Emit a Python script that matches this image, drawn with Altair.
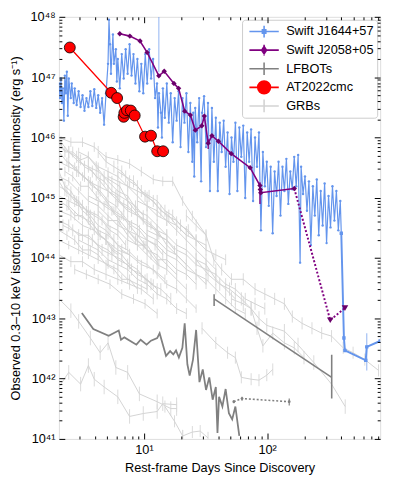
import altair as alt
import pandas as pd

FONT = "Liberation Sans"
W, H = 328, 431

# ---------------- data (rest-frame days, erg/s) ----------------
J1644_POINTS = [
    (2.043, 7.86e46), (2.081, 4.49e46), (2.119, 9.48e46), (2.159, 3.72e46), (2.198, 6.52e46),
    (2.239, 1.90e46), (2.280, 1.06e47), (2.322, 5.41e46), (2.365, 1.23e47), (2.409, 2.29e46),
    (2.453, 9.48e46), (2.545, 4.49e46), (2.592, 7.86e46), (2.689, 3.72e46), (2.739, 6.52e46),
    (2.841, 3.45e46), (2.947, 5.83e46), (3.057, 3.20e46), (3.171, 5.02e46), (3.289, 2.76e46),
    (3.412, 4.49e46), (3.539, 3.20e46), (3.671, 5.83e46), (3.808, 3.33e46), (3.951, 6.28e46),
    (4.098, 3.09e46), (4.251, 5.02e46), (4.410, 2.56e46), (4.574, 4.49e46), (4.745, 1.63e46),
    (4.922, 5.41e46), (5.106, 1.66e47), (5.200, 8.94e47), (5.297, 3.51e47), (5.395, 1.14e47),
    (5.596, 5.10e47), (5.700, 1.66e47), (5.912, 2.91e47), (6.022, 8.47e46), (6.133, 2.00e47),
    (6.362, 6.52e46), (6.599, 2.41e47), (6.845, 9.48e46), (7.101, 2.91e47), (7.366, 1.14e47),
    (7.641, 3.51e47), (7.926, 1.06e47), (8.221, 2.41e47), (8.528, 7.86e46), (8.846, 2.00e47),
    (9.176, 5.83e46), (9.519, 1.66e47), (9.872, 5.41e46), (10.24, 2.41e47), (10.62, 7.86e46),
    (11.02, 2.91e47), (11.43, 9.48e46), (11.86, 2.00e47), (12.30, 4.49e46), (12.76, 7.86e46),
    (12.99, 1.46e46), (13.23, 5.41e46), (13.73, 2.56e46), (13.98, 1.00e46), (14.24, 6.52e46),
    (14.77, 2.12e46), (15.32, 7.86e46), (15.89, 1.76e46), (16.49, 5.41e46), (17.10, 8.34e45),
    (17.74, 4.49e46), (18.41, 1.90e46), (19.09, 5.83e46), (19.81, 6.92e45), (20.55, 4.49e46),
    (21.31, 1.76e46), (22.11, 5.41e46), (22.93, 5.74e45), (23.79, 3.72e46), (24.68, 3.95e45),
    (25.13, 2.56e46), (25.59, 2.25e45), (26.07, 3.09e46), (27.04, 8.34e45), (28.05, 4.49e46),
    (29.10, 1.87e45), (29.64, 2.56e46), (30.74, 4.84e46), (31.89, 6.92e45), (33.08, 3.72e46),
    (34.31, 1.29e45), (35.59, 3.09e46), (36.92, 3.95e45), (38.30, 2.12e46), (39.72, 1.29e45),
    (41.21, 1.76e46), (42.74, 5.74e45), (44.34, 1.90e46), (45.99, 3.27e45), (47.71, 1.21e46),
    (49.49, 1.15e45), (51.34, 1.00e46), (53.26, 3.95e45), (55.24, 1.76e46), (57.31, 1.29e45),
    (59.44, 1.46e46), (61.66, 4.76e45), (63.97, 1.57e46), (66.36, 9.89e44), (68.83, 1.21e46),
    (71.40, 3.95e45), (74.07, 1.36e46), (76.83, 8.84e44), (79.70, 1.00e46), (82.68, 3.27e45),
    (85.77, 1.21e46), (88.97, 2.88e44), (92.29, 5.74e45), (95.70, 1.55e45), (99.27, 3.95e45),
    (103.0, 7.33e44), (106.8, 3.27e45), (110.8, 2.57e44), (114.9, 2.72e45), (119.2, 1.07e45),
    (123.7, 3.95e45), (128.3, 5.05e44), (133.1, 3.27e45), (138.0, 1.29e45), (143.2, 4.41e45),
    (148.5, 7.90e44), (154.1, 2.72e45), (159.8, 1.38e45), (165.8, 4.76e45), (172.0, 1.55e45),
    (178.4, 5.13e45), (185.1, 8.38e43), (188.5, 3.27e45), (195.5, 1.15e45), (202.8, 2.25e45),
    (210.4, 6.08e44), (218.3, 1.87e45), (226.4, 1.64e44), (234.9, 1.55e45), (243.6, 5.05e44),
    (252.7, 2.01e45), (262.1, 2.39e44), (271.9, 1.29e45), (282.0, 3.47e44), (292.6, 1.73e45),
    (303.5, 1.77e44), (314.8, 1.07e45), (326.6, 3.22e44), (338.8, 1.55e45), (351.4, 4.18e44),
    (364.5, 1.29e45), (378.1, 2.88e44), (392.2, 8.84e44), (399.5, 2.57e44),
]
J1644_LATE_DAYS = [399.5, 419.7, 427.5, 631.0, 643.0, 826.0]
J1644_LATE_LUM = [2.57e44, 4.71e42, 2.93e42, 2.01e42, 3.36e42, 4.21e42]
J1644_BAR_DAYS = [13.2, 643.0]
J1644_BAR_LO = [1.2e47, 1.37e42]
J1644_BAR_HI = [9.9e47, 5.68e42]

J2058_DAYS = [6.36, 7.68, 9.29, 10.6, 13.2, 14.6, 17.5, 19.1, 21.4, 23.8, 26.1, 29.5, 30.9,
              33.2, 35.6, 40.2, 51.1, 72.7, 87.4, 88.0, 88.7, 166.0]
J2058_LUM = [5.24e47, 4.79e47, 3.97e47, 2.57e47, 1.05e47, 1.25e47, 7.87e46, 6.52e46, 2.73e46,
             2.35e46, 1.32e46, 1.56e46, 2.26e46, 8.04e45, 1.07e46, 8.65e45, 5.38e45, 3.15e45,
             1.59e45, 1.37e45, 1.21e45, 1.42e45]
J2058_BAR_DAYS = [33.2, 87.4]
J2058_BAR_LO = [6.41e45, 7.90e44]
J2058_BAR_HI = [9.33e45, 1.80e45]
J2058_LIM_DAYS = [325.0, 428.0]
J2058_LIM_LUM = [9.3e42, 1.48e43]

AT2022_DAYS = [2.50, 5.42, 6.05, 6.84, 6.93, 7.28, 7.82, 8.41, 10.2, 11.4, 12.8, 14.3]
AT2022_LUM = [3.1e47, 5.5e46, 4.5e46, 2.2e46, 2.56e46, 2.83e46, 2.79e46, 2.31e46, 1.03e46,
              1.07e46, 5.9e45, 5.9e45]

COW_DAYS = [3.13, 3.88, 5.17, 6.24, 6.51, 6.93, 8.68, 9.40, 10.5, 11.4, 12.8, 13.4, 15.1, 16.3,
            17.3, 18.2, 19.2, 20.5, 21.4, 22.5, 23.5, 25.0, 26.5, 28.2, 30.0, 31.9, 33.9, 36.1,
            38.3, 39.5, 40.7, 43.3, 46.0, 48.9, 52.0, 55.2, 59.4]
COW_LUM = [1.23e43, 6.67e42, 5.13e42, 6.28e42, 4.42e42, 4.83e42, 3.66e42, 4.42e42, 3.66e42,
           4.26e42, 4.71e42, 5.68e42, 2.38e42, 2.86e42, 2.52e42, 2.93e42, 2.23e42, 3.24e42,
           8.24e42, 1.73e42, 1.12e42, 2.07e42, 6.42e42, 8.75e41, 1.42e42, 6.49e41, 1.05e42,
           4.47e41, 7.26e41, 1.25e41, 4.99e41, 3.44e41, 6.73e41, 2.67e41, 2.11e41, 3.44e41,
           1.12e41]
MRF_DAYS = [37.1, 334.0]
MRF_LUM = [2.10e43, 1.05e42]
MRF_LO = [1.6e43, 4.7e41]
MRF_HI = [2.5e43, 2.5e42]
XND_DAYS = [53.6, 62.5, 151.0]
XND_LUM = [4.14e41, 4.68e41, 4.14e41]
XND_LO = [3.9e41, 4.3e41, 3.6e41]
XND_HI = [4.4e41, 5.0e41, 4.7e41]

GRB_DAYS = [
    [2.04, 2.55, 3.17, 3.95, 4.92, 6.13, 7.64, 9.52, 11.9, 14.2, 17.1, 20.6, 24.7, 31.9],
    [2.04, 2.45, 2.95, 3.54, 4.25, 5.11, 6.13, 7.37, 8.85, 10.6, 12.8, 15.3],
    [2.04, 2.37, 2.74, 3.17, 3.67, 4.25, 4.92, 5.70, 6.60, 7.64, 8.85, 10.2],
    [2.04, 2.45, 2.95, 3.54, 4.25, 5.11, 6.13, 7.37, 8.85, 10.6, 12.8, 15.3, 18.4, 22.1],
    [2.12, 2.45, 2.84, 3.29, 3.81, 4.41, 5.11, 5.91, 6.85, 7.93],
    [2.28, 2.64, 3.06, 3.54, 4.10, 4.75, 5.49, 6.36, 7.37, 8.53, 9.87, 11.4, 13.2],
    [2.04, 2.45, 2.95, 3.54, 4.25, 5.11, 6.13, 7.37, 8.85, 10.6, 12.8, 15.3, 18.4],
    [2.04, 2.37, 2.74, 3.17, 3.67, 4.25, 4.92, 5.70, 6.60, 7.64],
    [2.04, 2.45, 2.95, 3.54, 4.25, 5.11, 6.13, 7.37, 8.85, 10.6, 12.8, 15.3, 18.4, 22.1],
    [2.04, 2.55, 3.17, 3.95, 4.92, 6.13, 7.64, 9.52, 11.9, 14.8],
    [2.20, 2.64, 3.17, 3.81, 4.57, 5.49, 6.60, 7.93, 9.52, 11.4, 13.7, 16.5],
    [2.04, 2.45, 2.95, 3.54, 4.25, 5.11, 6.13, 7.37, 8.85, 10.6],
    [2.04, 2.55, 3.17, 3.95, 4.92, 6.13, 7.64, 9.52, 11.9],
    [2.74, 3.41, 4.25, 5.30, 6.60, 8.22, 10.2, 12.8],
    [4.25, 4.92, 5.70, 6.60, 7.64, 8.85, 10.2, 11.9, 13.7, 15.9, 18.4, 22.1],
    [2.95, 3.54, 4.25, 5.11, 6.13, 7.37, 8.85, 10.6, 12.8, 15.3, 18.4, 22.1, 26.5],
    [5.11, 6.13, 7.37, 8.85, 10.6, 12.8, 15.3, 18.4, 22.1, 26.5, 31.9, 38.3],
    [3.54, 4.25, 5.11, 6.13, 7.37, 8.85, 10.6, 12.8, 15.3, 18.4, 22.1, 26.5, 31.9],
    [6.13, 7.37, 8.85, 10.6, 12.8, 15.3, 18.4, 22.1, 26.5, 31.9, 38.3, 46.0, 55.2],
    [7.37, 8.85, 10.6, 12.8, 15.3, 18.4, 22.1, 26.5, 31.9, 38.3, 46.0, 55.2, 66.4],
    [2.04, 2.28, 2.55, 2.84, 3.17, 3.54, 3.95, 4.41, 4.92, 5.49, 6.13],
    [2.45, 2.95, 3.54, 4.25, 5.11, 6.13, 7.37, 8.85, 10.6, 12.8, 15.3, 18.4, 22.1, 26.5],
    [10.6, 12.8, 15.3, 18.4, 22.1, 26.5, 31.9, 38.3, 46.0, 55.2, 66.4, 79.7, 95.7],
    [8.85, 10.6, 12.8, 15.3, 18.4, 22.1, 26.5, 31.9, 38.3, 46.0],
    [22.1, 26.5, 31.9, 36.9, 42.7, 51.3, 64.0, 79.7, 95.7, 115, 138, 160, 192, 231, 277, 333,
     414, 498, 620, 801],
    [51.3, 64.0, 74.1, 85.8, 99.3, 138, 178, 239, 333, 430],
    [29.6, 38.3, 47.7, 55.2, 61.7, 74.1, 85.8, 99.3, 111],
    [26.5, 33.1, 41.2, 49.5, 61.7, 74.1, 82.7, 92.3, 111, 138, 166, 199],
    [2.04, 2.55, 2.95, 3.67, 4.41, 5.11, 5.91, 7.37, 9.18, 12.8, 16.5, 18.4],
    [2.04, 2.45, 3.06, 3.54, 3.95, 4.75, 6.13, 7.64, 9.87, 12.8, 14.2, 18.4],
    [14.8, 17.7, 20.6],
    [20.6, 24.7, 28.6, 33.1],
    [2.04, 2.28, 2.64, 3.06, 3.54, 4.10, 4.75, 5.49, 6.36, 7.37, 8.53, 9.87],
    [2.04, 2.37, 2.74, 3.17, 3.67, 4.25, 4.92, 5.70, 6.60, 7.64, 8.85, 10.2, 11.9],
    [2.04, 2.45, 2.95, 3.54, 4.25, 5.11, 6.13, 7.37, 8.85, 10.6, 12.8],
    [3.54, 4.10, 4.75, 5.49, 6.36, 7.37, 8.53, 9.87, 11.4, 13.2, 15.3, 17.7],
    [2.45, 2.84, 3.29, 3.81, 4.41, 5.11, 5.91, 6.85, 7.93, 9.18, 10.6, 12.3, 14.2],
    [2.04, 2.37, 2.74, 3.17, 3.67, 4.25, 4.92, 5.70, 6.60, 7.64, 8.85],
    [6.13, 7.10, 8.22, 9.52, 11.0, 12.8, 14.8, 17.1, 19.8, 22.9, 26.5, 31.9],
    [2.95, 3.54, 4.25, 5.11, 6.13, 7.37, 8.85, 10.6, 12.8, 15.3, 18.4, 22.1],
    [2.04, 2.28, 2.55, 2.95, 3.41, 3.95, 4.57, 5.30, 6.13, 7.10],
    [4.25, 5.11, 6.13, 7.37, 8.85, 10.6, 12.8, 15.3, 18.4, 22.1, 26.5],
]
GRB_LUM = [
    [1.0e46, 8.34e45, 8.34e45, 6.92e45, 4.76e45, 4.25e45, 3.66e45, 2.72e45, 2.01e45, 1.87e45,
     1.87e45, 8.84e44, 5.05e44, 2.39e44],
    [6.92e45, 5.74e45, 3.95e45, 3.27e45, 2.72e45, 1.87e45, 1.29e45, 1.07e45, 6.08e44, 5.05e44,
     3.47e44, 2.39e44],
    [5.74e45, 3.95e45, 3.27e45, 2.25e45, 1.87e45, 1.29e45, 8.84e44, 6.08e44, 5.05e44, 3.47e44,
     2.39e44, 1.64e44],
    [3.95e45, 3.27e45, 2.72e45, 1.87e45, 1.55e45, 1.29e45, 8.84e44, 7.33e44, 5.05e44, 3.47e44,
     2.88e44, 1.64e44, 1.13e44, 7.78e43],
    [8.34e45, 5.74e45, 4.76e45, 3.27e45, 2.72e45, 1.87e45, 1.29e45, 1.07e45, 7.33e44, 6.08e44],
    [2.72e45, 2.25e45, 1.55e45, 1.55e45, 1.07e45, 7.33e44, 6.08e44, 4.18e44, 2.88e44, 1.98e44,
     1.64e44, 1.13e44, 7.78e43],
    [2.25e45, 1.87e45, 1.29e45, 8.84e44, 7.33e44, 5.05e44, 3.47e44, 2.88e44, 1.98e44, 1.36e44,
     1.13e44, 7.78e43, 5.35e43],
    [1.55e45, 1.29e45, 8.84e44, 7.33e44, 5.05e44, 3.47e44, 2.88e44, 1.98e44, 1.36e44, 1.13e44],
    [1.07e45, 8.84e44, 7.33e44, 6.08e44, 5.05e44, 3.47e44, 2.88e44, 1.98e44, 1.64e44, 1.13e44,
     7.78e43, 6.45e43, 4.44e43, 3.05e43],
    [6.08e44, 5.05e44, 3.47e44, 2.88e44, 1.98e44, 1.36e44, 1.13e44, 7.78e43, 6.45e43, 4.44e43],
    [3.47e44, 2.88e44, 2.39e44, 1.98e44, 1.36e44, 1.13e44, 9.38e43, 6.45e43, 5.35e43, 3.68e43,
     3.05e43, 2.10e43],
    [1.98e44, 1.64e44, 1.36e44, 1.13e44, 9.38e43, 7.78e43, 6.45e43, 4.44e43, 3.68e43, 3.05e43],
    [1.13e44, 8.70e43, 8.70e43, 6.45e43, 5.35e43, 4.44e43, 3.68e43, 3.05e43, 2.10e43],
    [6.45e43, 5.35e43, 4.44e43, 3.68e43, 2.53e43, 2.10e43, 1.74e43, 1.20e43],
    [5.74e45, 3.95e45, 3.27e45, 2.72e45, 1.87e45, 1.55e45, 1.07e45, 8.84e44, 6.08e44, 5.05e44,
     3.47e44, 2.39e44],
    [5.74e45, 4.76e45, 3.27e45, 2.72e45, 2.25e45, 1.55e45, 1.29e45, 1.07e45, 7.33e44, 5.05e44,
     4.18e44, 2.88e44, 1.98e44],
    [2.25e45, 1.87e45, 1.55e45, 1.07e45, 7.33e44, 6.08e44, 4.18e44, 2.88e44, 1.98e44, 1.36e44,
     9.38e43, 6.45e43],
    [1.07e45, 8.84e44, 7.33e44, 5.05e44, 4.18e44, 3.47e44, 2.39e44, 1.98e44, 1.36e44, 1.13e44,
     7.78e43, 5.35e43, 3.68e43],
    [8.84e44, 6.08e44, 5.05e44, 4.18e44, 2.88e44, 2.39e44, 1.64e44, 1.36e44, 9.38e43, 7.78e43,
     4.44e43, 3.05e43, 2.10e43],
    [2.88e44, 2.39e44, 1.98e44, 1.64e44, 1.13e44, 9.38e43, 6.45e43, 5.35e43, 4.44e43, 3.05e43,
     2.10e43, 1.45e43, 1.20e43],
    [2.72e45, 1.55e45, 1.29e45, 8.84e44, 6.08e44, 5.05e44, 3.47e44, 2.39e44, 1.98e44, 1.36e44,
     1.13e44],
    [7.33e44, 5.05e44, 4.18e44, 2.88e44, 2.39e44, 1.64e44, 1.36e44, 9.38e43, 7.78e43, 5.35e43,
     3.68e43, 3.05e43, 2.10e43, 1.45e43],
    [2.88e44, 2.39e44, 1.98e44, 1.36e44, 1.13e44, 7.78e43, 6.45e43, 5.35e43, 3.68e43, 3.05e43,
     2.10e43, 1.74e43, 1.45e43],
    [8.84e44, 7.33e44, 5.05e44, 4.18e44, 3.47e44, 2.39e44, 1.98e44, 1.36e44, 1.13e44, 9.38e43],
    [5.05e44, 3.47e44, 2.39e44, 9.38e43, 6.45e43, 4.44e43, 4.44e43, 3.05e43, 2.53e43, 2.10e43,
     1.74e43, 1.07e43, 8.25e42, 6.84e42, 5.68e42, 5.07e42, 3.24e42, 2.69e42, 2.07e42, 1.37e42],
    [2.10e43, 1.74e43, 1.45e43, 9.94e42, 7.65e42, 6.11e42, 3.62e42, 1.85e42, 8.11e41, 3.44e41],
    [6.84e42, 3.91e42, 2.69e42, 2.23e42, 1.05e42, 9.78e41, 9.43e41, 1.14e42, 1.42e42],
    [9.38e43, 5.35e43, 3.68e43, 3.05e43, 2.10e43, 1.45e43, 6.84e42, 3.49e42, 5.68e42, 3.91e42,
     3.24e42, 2.23e42],
    [2.10e43, 1.34e43, 8.89e42, 4.71e42, 2.69e42, 3.91e42, 1.53e42, 1.27e42, 5.58e41, 4.14e41,
     3.19e41, 3.19e41],
    [7.26e41, 1.27e42, 8.11e41, 1.65e42, 9.78e41, 7.26e41, 4.99e41, 2.36e41, 2.64e41, 2.85e41,
     3.84e41, 3.70e41],
    [3.44e41, 1.96e41, 1.12e41],
    [1.12e41, 1.30e41, 1.35e41, 1.04e41],
    [8.98e45, 5.74e45, 5.74e45, 4.25e45, 4.76e45, 3.27e45, 2.25e45, 1.87e45, 1.55e45, 8.84e44,
     7.33e44, 5.05e44],
    [8.84e44, 7.33e44, 5.05e44, 5.05e44, 3.47e44, 2.39e44, 1.98e44, 1.36e44, 1.13e44, 7.78e43,
     6.45e43, 4.44e43, 3.68e43],
    [4.18e44, 3.47e44, 2.39e44, 2.39e44, 1.64e44, 1.36e44, 9.38e43, 7.78e43, 5.35e43, 4.44e43,
     3.05e43],
    [3.27e45, 2.25e45, 1.87e45, 1.29e45, 1.07e45, 8.84e44, 6.08e44, 4.18e44, 3.47e44, 2.39e44,
     1.98e44, 1.36e44],
    [3.95e45, 2.72e45, 2.25e45, 1.55e45, 1.29e45, 8.84e44, 7.33e44, 5.05e44, 3.47e44, 2.88e44,
     1.98e44, 1.64e44, 1.13e44],
    [2.88e44, 2.39e44, 1.98e44, 1.36e44, 1.36e44, 1.13e44, 7.78e43, 6.45e43, 4.44e43, 4.44e43,
     3.05e43],
    [2.72e45, 2.25e45, 1.87e45, 1.29e45, 1.07e45, 8.84e44, 6.08e44, 5.05e44, 3.47e44, 2.88e44,
     1.98e44, 1.64e44],
    [1.98e44, 1.64e44, 1.36e44, 9.38e43, 7.78e43, 6.45e43, 4.44e43, 3.68e43, 2.53e43, 2.10e43,
     1.45e43, 1.20e43],
    [1.87e45, 1.29e45, 1.07e45, 8.84e44, 6.08e44, 5.05e44, 4.18e44, 2.88e44, 2.39e44, 1.64e44],
    [6.08e44, 4.18e44, 4.18e44, 2.39e44, 1.64e44, 1.64e44, 9.38e43, 9.38e43, 6.45e43, 5.35e43,
     3.68e43],
]
GRB_ERR_DEX = [0.08, 0.10, 0.07, 0.09, 0.10, 0.08, 0.07, 0.10, 0.09, 0.08, 0.10, 0.07, 0.09,
               0.08, 0.10, 0.07, 0.09, 0.08, 0.10, 0.09, 0.08, 0.07, 0.10, 0.09, 0.10, 0.12,
               0.10, 0.11, 0.12, 0.12, 0.10, 0.10, 0.09, 0.08, 0.10, 0.07, 0.09, 0.08, 0.10,
               0.09, 0.08, 0.09]

NAMES = ["Swift J1644+57", "Swift J2058+05", "LFBOTs", "AT2022cmc", "GRBs"]
COLORS = ["#6495ED", "#800080", "#808080", "#FF0000", "#D3D3D3"]
LEGEND_PATHS = [
    "M-3,0H3M0,-1.2V1.2M-0.35,-0.35H0.35V0.35H-0.35Z",
    "M-3,0H3M0,-1.1V1.1M0,-0.75L0.5,0L0,0.75L-0.5,0Z",
    "M-3,0H3M0,-1.3V1.3",
    "M-3,0H3M1.3,0A1.3,1.3,0,1,1,-1.3,0A1.3,1.3,0,1,1,1.3,0Z",
    "M-3,0H3M0,-1.3V1.3",
]

X_MAJOR = [10, 100]
X_MINOR = [3, 4, 5, 6, 7, 8, 9, 20, 30, 40, 50, 60, 70, 80, 90, 200, 300, 400, 500, 600, 700, 800]
Y_MAJOR = [1e41, 1e42, 1e43, 1e44, 1e45, 1e46, 1e47, 1e48]
Y_MINOR = [m * 10.0 ** e for e in range(41, 48) for m in range(2, 10)]

# ---------------- tables ----------------
grb_rows = []
for i, (ds, ls) in enumerate(zip(GRB_DAYS, GRB_LUM)):
    e = 10 ** GRB_ERR_DEX[i]
    for d, l in zip(ds, ls):
        grb_rows.append({"curve": i, "day": d, "lum": l, "lo": l / e, "hi": l * e})
grb_df = pd.DataFrame(grb_rows)

j1644_df = pd.DataFrame(J1644_POINTS, columns=["day", "lum"])
j1644_late = pd.DataFrame({"day": J1644_LATE_DAYS, "lum": J1644_LATE_LUM})
j1644_bar = pd.DataFrame({"day": J1644_BAR_DAYS, "lo": J1644_BAR_LO, "hi": J1644_BAR_HI})
j2058_df = pd.DataFrame({"day": J2058_DAYS, "lum": J2058_LUM})
j2058_bar = pd.DataFrame({"day": J2058_BAR_DAYS, "lo": J2058_BAR_LO, "hi": J2058_BAR_HI})
j2058_lim = pd.DataFrame({"day": J2058_LIM_DAYS, "lum": J2058_LIM_LUM})
j2058_dot = pd.DataFrame({"day": [J2058_DAYS[-1]] + J2058_LIM_DAYS,
                          "lum": [J2058_LUM[-1]] + J2058_LIM_LUM})
at_df = pd.DataFrame({"day": AT2022_DAYS, "lum": AT2022_LUM})
cow_df = pd.DataFrame({"day": COW_DAYS, "lum": COW_LUM})
mrf_df = pd.DataFrame({"day": MRF_DAYS, "lum": MRF_LUM, "lo": MRF_LO, "hi": MRF_HI})
xnd_df = pd.DataFrame({"day": XND_DAYS, "lum": XND_LUM, "lo": XND_LO, "hi": XND_HI})
legend_df = pd.DataFrame({"name": NAMES, "day": [1.0] * 5, "lum": [1e44] * 5})
anchor_df = pd.DataFrame({"day": [10.0], "lum": [1e44]})

# ---------------- scales / helpers ----------------
xs = alt.Scale(type="log", domain=[2.04, 826], nice=False)
ys = alt.Scale(type="log", domain=[1e41, 1e48], nice=False)


def X(f="day", axis=None):
    return alt.X(f"{f}:Q", scale=xs, axis=axis, title=None)


def Y(f="lum", axis=None):
    return alt.Y(f"{f}:Q", scale=ys, axis=axis, title=None)


def rules(df, color, width=1.0, opacity=1.0):
    return alt.Chart(df).mark_rule(color=color, strokeWidth=width, opacity=opacity, clip=True).encode(
        x=X(), y=Y("lo"), y2=alt.Y2("hi:Q"))


grb_err = rules(grb_df, "#DADADA", 1.0)
grb_line = alt.Chart(grb_df).mark_line(color="#D3D3D3", strokeWidth=1, clip=True).encode(
    x=X(), y=Y(), detail="curve:N")

cow_line = alt.Chart(cow_df).mark_line(color="#808080", strokeWidth=1.8, clip=True).encode(x=X(), y=Y())
mrf_line = alt.Chart(mrf_df).mark_line(color="#808080", strokeWidth=1.6, clip=True).encode(x=X(), y=Y())
mrf_err = rules(mrf_df, "#808080", 1.6)
xnd_line = alt.Chart(xnd_df).mark_line(color="#808080", strokeWidth=1.6, strokeDash=[2, 2], clip=True).encode(
    x=X(), y=Y())
xnd_pts = alt.Chart(xnd_df).mark_point(color="#808080", filled=True, size=8, opacity=1, clip=True).encode(
    x=X(), y=Y())
xnd_err = rules(xnd_df, "#808080", 1.2)

j_line = alt.Chart(j1644_df).mark_line(color="#6495ED", strokeWidth=1.2, opacity=1, clip=True).encode(
    x=X(), y=Y())
j_pts = alt.Chart(j1644_df).mark_circle(color="#6495ED", size=6, opacity=1, clip=True).encode(x=X(), y=Y())
j_late = alt.Chart(j1644_late).mark_line(color="#6495ED", strokeWidth=2, clip=True).encode(x=X(), y=Y())
j_late_pts = alt.Chart(j1644_late).mark_square(color="#6495ED", size=12, opacity=1, clip=True).encode(
    x=X(), y=Y())
j_bar = rules(j1644_bar, "#6495ED", 1.2, 0.6)

p_line = alt.Chart(j2058_df).mark_line(color="#800080", strokeWidth=1.6, clip=True).encode(x=X(), y=Y())
p_bar = rules(j2058_bar, "#800080", 1.4)
p_pts = alt.Chart(j2058_df).mark_point(shape="diamond", filled=True, color="#6A006A", size=30, opacity=1,
                                        clip=True).encode(x=X(), y=Y())
p_dot = alt.Chart(j2058_dot).mark_line(color="#800080", strokeWidth=2, strokeDash=[2, 2], clip=True).encode(
    x=X(), y=Y())
p_lim = alt.Chart(j2058_lim).mark_point(shape="triangle-down", filled=True, color="#6A006A", size=45,
                                         opacity=1, clip=True).encode(x=X(), y=Y())

at_line = alt.Chart(at_df).mark_line(color="#FF0000", strokeWidth=1.3, clip=True).encode(x=X(), y=Y())
at_pts = alt.Chart(at_df).mark_point(shape="circle", filled=True, fill="#FF0000", stroke="black",
                                      strokeWidth=0.8, size=125, opacity=1, clip=True).encode(x=X(), y=Y())

LEG = alt.Legend(title=None, orient="top-right", offset=3, padding=3, fillColor="white",
                 strokeColor="#CCCCCC", cornerRadius=3, symbolSize=100, symbolStrokeWidth=1.6,
                 symbolOffset=13, labelOffset=16, rowPadding=1, clipHeight=18, labelFontSize=13,
                 labelFont=FONT, labelColor="black", labelLimit=200, symbolOpacity=1)
legend_layer = alt.Chart(legend_df).mark_point(filled=True, opacity=1, clip=True).encode(
    x=X(), y=Y(),
    stroke=alt.Stroke("name:N", scale=alt.Scale(domain=NAMES, range=COLORS), legend=LEG),
    fill=alt.Fill("name:N", scale=alt.Scale(domain=NAMES, range=COLORS), legend=LEG),
    shape=alt.Shape("name:N", scale=alt.Scale(domain=NAMES, range=LEGEND_PATHS), legend=LEG),
)

# ---------------- axes ----------------
X_TITLE = "Rest-frame Days Since Discovery"
Y_TITLE = "Observed 0.3–10 keV isotropic equivalent luminosity (erg s⁻¹)"
y_label_expr = ("'10' + (datum.value < 3e41 ? '⁴¹' : datum.value < 3e42 ? '⁴²' : "
                "datum.value < 3e43 ? '⁴³' : datum.value < 3e44 ? '⁴⁴' : datum.value < 3e45 ? '⁴⁵' : "
                "datum.value < 3e46 ? '⁴⁶' : datum.value < 3e47 ? '⁴⁷' : '⁴⁸')")

x_lab = alt.Axis(orient="bottom", values=X_MAJOR, labelExpr="datum.value < 50 ? '10¹' : '10²'",
                 ticks=False, domain=False, grid=False, labelFontSize=13, labelFont=FONT,
                 labelColor="black", labelPadding=5, titleFont=FONT, titleFontSize=13,
                 titleFontWeight="normal", titleColor="black", titlePadding=5)
y_lab = alt.Axis(orient="left", values=Y_MAJOR, labelExpr=y_label_expr, ticks=False, domain=False,
                 grid=False, labelFontSize=13, labelFont=FONT, labelColor="black", labelPadding=4,
                 titleFont=FONT, titleFontSize=13, titleFontWeight="normal", titleColor="black",
                 titlePadding=8)


def tick_axis(orient, offset, values, size):
    return alt.Axis(orient=orient, offset=offset, values=values, tickSize=size, labels=False,
                    domain=False, grid=False, ticks=True, tickColor="black", tickWidth=1, zindex=1)


def axis_layer(xa, ya, xt=None, yt=None):
    return alt.Chart(anchor_df).mark_point(opacity=0).encode(
        x=alt.X("day:Q", scale=xs, axis=xa, title=xt),
        y=alt.Y("lum:Q", scale=ys, axis=ya, title=yt))


ax_labels = axis_layer(x_lab, y_lab, X_TITLE, Y_TITLE)
ax_in_major_a = axis_layer(tick_axis("top", -H, X_MAJOR, 6), tick_axis("right", -W, Y_MAJOR, 6))
ax_in_minor_a = axis_layer(tick_axis("top", -H, X_MINOR, 3), tick_axis("right", -W, Y_MINOR, 3))
ax_in_major_b = axis_layer(tick_axis("bottom", -H, X_MAJOR, 6), tick_axis("left", -W, Y_MAJOR, 6))
ax_in_minor_b = axis_layer(tick_axis("bottom", -H, X_MINOR, 3), tick_axis("left", -W, Y_MINOR, 3))

chart = alt.layer(
    grb_err, grb_line,
    cow_line, mrf_err, mrf_line, xnd_err, xnd_line, xnd_pts,
    j_bar, j_line, j_pts, j_late, j_late_pts,
    p_bar, p_line, p_dot, p_pts, p_lim,
    at_line, at_pts,
    legend_layer,
    ax_labels, ax_in_major_a, ax_in_minor_a, ax_in_major_b, ax_in_minor_b,
).resolve_axis(x="independent", y="independent").properties(
    width=W, height=H,
    padding={"left": 52, "top": 4, "right": 7, "bottom": 41},
    autosize=alt.AutoSizeParams(type="none"),
).configure_view(stroke="black", strokeWidth=1).configure(font=FONT)

chart.save("out.html", embed_options={"renderer": "svg", "actions": False})
